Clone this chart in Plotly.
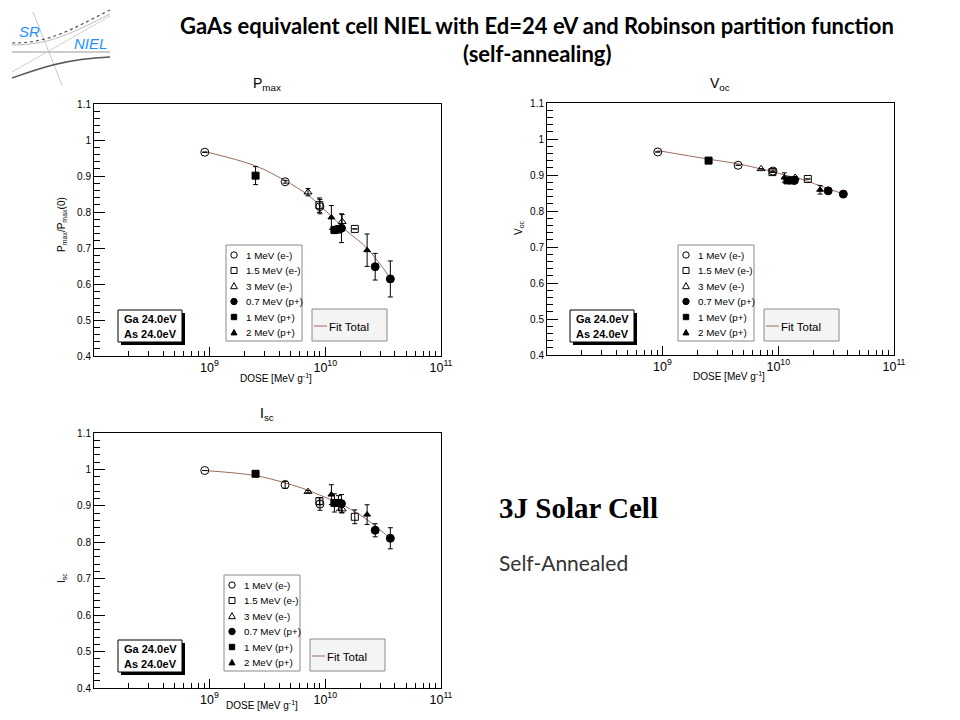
import plotly.graph_objects as go

W, H = 960, 720
OFF = 8  # the page body adds an 8 px margin; compensate in paper placement

# ---------------- data ----------------
series_names = ["1 MeV (e-)", "1.5 MeV (e-)", "3 MeV (e-)", "0.7 MeV (p+)", "1 MeV (p+)", "2 MeV (p+)"]
series_symbols = ["circle-open", "square-open", "triangle-up-open", "circle", "square", "triangle-up"]

dose_1MeV_e = [9.1e8, 4.5e9, 9.0e9]
dose_1p5MeV_e = [8.9e9, 1.8e10]
dose_3MeV_e = [7.1e9, 1.4e10]
dose_0p7MeV_p = [1.38e10, 2.7e10, 3.65e10]
dose_1MeV_p = [2.5e9, 1.2e10, 1.3e10]
dose_2MeV_p = [1.13e10, 2.3e10]
doses = [dose_1MeV_e, dose_1p5MeV_e, dose_3MeV_e, dose_0p7MeV_p, dose_1MeV_p, dose_2MeV_p]

# Pmax / Pmax(0)   (None = no error bar drawn)
pmax_vals = [[0.966, 0.884, 0.815], [0.819, 0.753], [0.855, 0.773],
             [0.755, 0.648, 0.614], [0.901, 0.750, 0.752], [0.785, 0.694]]
pmax_err = [[None, 0.004, 0.02], [0.02, None], [0.01, 0.02],
            [0.04, 0.037, 0.05], [0.025, 0.01, 0.01], [0.033, 0.045]]
# Voc
voc_vals = [[0.964, 0.927, 0.911], [0.908, 0.889], [0.917, 0.893],
            [0.885, 0.856, 0.847], [0.940, 0.885, 0.885], [0.893, 0.859]]
voc_err = [[None, None, 0.003], [None, None], [None, 0.003],
           [0.004, 0.003, 0.004], [0.003, 0.003, 0.003], [0.013, 0.012]]
# Isc
isc_vals = [[0.997, 0.958, 0.905], [0.913, 0.870], [0.939, 0.891],
            [0.906, 0.833, 0.811], [0.988, 0.908, 0.908], [0.931, 0.876]]
isc_err = [[None, 0.01, 0.017], [0.01, 0.019], [0.003, 0.01],
           [0.025, 0.018, 0.029], [0.005, 0.025, 0.02], [0.027, 0.027]]

# fit curves (read along the drawn fit)
fit_dose = [9.06e8, 2.5e9, 4.5e9, 7.1e9, 8.9e9, 1.16e10, 1.5e10, 2.3e10, 3.66e10]
fit_pmax = [0.968, 0.928, 0.887, 0.847, 0.819, 0.785, 0.750, 0.699, 0.616]
fit_voc = [0.968, 0.944, 0.931, 0.917, 0.910, 0.899, 0.891, 0.870, 0.847]
fit_isc = [0.997, 0.983, 0.963, 0.943, 0.930, 0.915, 0.898, 0.862, 0.810]

# ---------------- helpers ----------------
def fx(x):
    return (x - OFF) / W

def fy(y):
    return 1 - (y - OFF) / H

FONT = "Liberation Sans, Arial, Helvetica, sans-serif"
FIT_COLOR = "#9c6b5c"

panels = [
    # name, values, errors, fit, x-dom px, y-dom px, axis suffix, legend top-left, ga/as box
    ("Pmax", pmax_vals, pmax_err, fit_pmax, (94, 441), (104, 356), "", (226, 245), (118, 310)),
    ("Voc", voc_vals, voc_err, fit_voc, (547, 894), (103, 355), "2", (678, 245), (570, 310)),
    ("Isc", isc_vals, isc_err, fit_isc, (94, 441), (433, 688), "3", (224, 575), (118, 640)),
]

fig = go.Figure()
layout = dict(width=W, height=H, margin=dict(l=0, r=0, t=0, b=0, autoexpand=False),
              paper_bgcolor="white", plot_bgcolor="white", showlegend=False,
              font=dict(family=FONT, size=10, color="black"))

annotations = []
shapes = []

def text(x, y, t, size=10, family=FONT, color="black", angle=0, xanchor="center"):
    annotations.append(dict(x=fx(x), y=fy(y), xref="paper", yref="paper", text=t,
                            showarrow=False, textangle=angle, xanchor=xanchor, yanchor="middle",
                            font=dict(size=size, family=family, color=color)))

def rect(x0, y0, x1, y1, fill, line_color=None, lw=1):
    shapes.append(dict(type="rect", xref="paper", yref="paper", x0=fx(x0), x1=fx(x1),
                       y0=fy(y1), y1=fy(y0), fillcolor=fill, layer="above",
                       line=dict(color=line_color or fill, width=lw if line_color else 0)))

def P(x, y):
    return "%.5f,%.5f" % (fx(x), fy(y))

def legend_symbol(kind, cx, cy):
    filled = not kind.endswith("open")
    fill = "black" if filled else "rgba(0,0,0,0)"
    if kind.startswith("circle"):
        r = 3.2
        shapes.append(dict(type="circle", xref="paper", yref="paper", x0=fx(cx - r), x1=fx(cx + r),
                           y0=fy(cy + r), y1=fy(cy - r), fillcolor=fill, layer="above",
                           line=dict(color="black", width=1)))
    elif kind.startswith("square"):
        r = 3.0 if not filled else 2.7
        rect(cx - r, cy - r, cx + r, cy + r, fill, "black")
    else:
        r = 3.4 if not filled else 3.0
        shapes.append(dict(type="path", xref="paper", yref="paper", layer="above",
                           path="M %s L %s L %s Z" % (P(cx - r, cy + r * 0.8), P(cx + r, cy + r * 0.8),
                                                      P(cx, cy - r * 1.0)),
                           fillcolor=fill, line=dict(color="black", width=1)))

marker_sizes = [8, 7, 7, 8, 7, 6]

for i, (name, vals, errs, fit, xd, yd, suf, (lx, ly), (gx, gy)) in enumerate(panels):
    xa = "x" + suf
    ya = "y" + suf
    fig.add_trace(go.Scatter(x=fit_dose, y=fit, mode="lines", xaxis=xa, yaxis=ya,
                             line=dict(color=FIT_COLOR, width=1, shape="spline"),
                             name="Fit Total"))
    for s in range(6):
        fig.add_trace(go.Scatter(
            x=doses[s], y=vals[s], mode="markers", xaxis=xa, yaxis=ya,
            name=series_names[s],
            marker=dict(symbol=series_symbols[s], size=marker_sizes[s], color="black",
                        line=dict(color="black", width=1)),
            error_y=dict(type="data", array=errs[s], color="black", thickness=1, width=2.5)))

    layout["xaxis" + suf] = dict(
        domain=[fx(xd[0]), fx(xd[1])], anchor=ya, type="log", range=[8.002, 11], dtick=1,
        exponentformat="power", showgrid=False, zeroline=False, automargin=False,
        showline=True, linecolor="black", linewidth=1, mirror=True,
        ticks="inside", ticklen=9, tickcolor="black",
        minor=dict(ticks="inside", ticklen=5, tickcolor="black", dtick="D1"),
        tickfont=dict(size=10, family=FONT))
    layout["yaxis" + suf] = dict(
        domain=[fy(yd[1]), fy(yd[0])], anchor=xa, range=[0.4, 1.1], dtick=0.1, tick0=0.4,
        showgrid=False, zeroline=False, automargin=False,
        showline=True, linecolor="black", linewidth=1, mirror=True,
        ticks="inside", ticklen=11, tickcolor="black",
        minor=dict(ticks="inside", ticklen=6, tickcolor="black", dtick=0.02),
        tickfont=dict(size=10, family=FONT))

    # legend box (markers)
    rect(lx, ly, lx + 76, ly + 96, "white", "#8a8a8a")
    for s in range(6):
        yy = ly + 10 + s * 15.5
        legend_symbol(series_symbols[s], lx + 8, yy)
        text(lx + 18, yy, series_names[s], size=9.8, xanchor="left")
    # Fit Total box
    fx0, fy0 = lx + 86, ly + 64
    rect(fx0, fy0, fx0 + 75, fy0 + 32, "#f4f4f4", "#8a8a8a")
    shapes.append(dict(type="line", xref="paper", yref="paper", x0=fx(fx0 + 2), x1=fx(fx0 + 15),
                       y0=fy(fy0 + 17), y1=fy(fy0 + 17), layer="above",
                       line=dict(color=FIT_COLOR, width=1)))
    text(fx0 + 15, fy0 + 18, "Fit Total", size=11.5, xanchor="left")

    # Ga/As box with shadow
    rect(gx + 3, gy + 3, gx + 67, gy + 35, "black")
    rect(gx, gy, gx + 64, gy + 32, "white", "black")
    text(gx + 4, gy + 9, "<b>Ga 24.0eV</b>", size=11, xanchor="left")
    text(gx + 4, gy + 24, "<b>As 24.0eV</b>", size=11, xanchor="left")

# subplot titles
text(267, 84, "P<sub>max</sub>", size=14)
text(720, 84, "V<sub>oc</sub>", size=14)
text(267, 414, "I<sub>sc</sub>", size=14)
# axis titles
text(276, 378, "DOSE [MeV g<sup>-1</sup>]", size=10)
text(729, 376, "DOSE [MeV g<sup>-1</sup>]", size=10)
text(262, 705, "DOSE [MeV g<sup>-1</sup>]", size=10)
text(62, 225, "P<sub>max</sub>/P<sub>max</sub>(0)", size=10, angle=-90)
text(519, 228, "V<sub>oc</sub>", size=10, angle=-90)
text(62, 578, "I<sub>sc</sub>", size=10, angle=-90)

# page title
text(537, 25, "<b>GaAs equivalent cell NIEL with Ed=24 eV and Robinson partition function</b>",
     size=22, family="Lato, Open Sans, sans-serif")
text(537, 53, "<b>(self-annealing)</b>", size=22, family="Lato, Open Sans, sans-serif")

# right side text
text(497, 508, "<b>3J Solar Cell</b>", size=29, family="Liberation Serif, Times New Roman, serif",
     xanchor="left")
text(497, 562, "Self-Annealed", size=21, family="Lato, Open Sans, sans-serif", color="#333333",
     xanchor="left")

# logo
shapes.append(dict(type="line", xref="paper", yref="paper", x0=fx(33), y0=fy(12), x1=fx(62), y1=fy(85),
                   line=dict(color="#c8c8c8", width=1)))
shapes.append(dict(type="path", xref="paper", yref="paper",
                   path="M %s C %s %s %s" % (P(12, 43), P(50, 43), P(70, 30), P(110, 10)),
                   line=dict(color="#555555", width=1.2, dash="dot")))
shapes.append(dict(type="path", xref="paper", yref="paper",
                   path="M %s C %s %s %s" % (P(12, 45), P(50, 45), P(72, 33), P(110, 14)),
                   line=dict(color="#bbbbbb", width=1)))
shapes.append(dict(type="line", xref="paper", yref="paper", x0=fx(12), y0=fy(52), x1=fx(110), y1=fy(52),
                   line=dict(color="#999999", width=1)))
shapes.append(dict(type="path", xref="paper", yref="paper",
                   path="M %s C %s %s %s" % (P(12, 78), P(40, 68), P(65, 59), P(110, 57)),
                   line=dict(color="#555555", width=1.5)))
shapes.append(dict(type="line", xref="paper", yref="paper", x0=fx(12), y0=fy(72), x1=fx(110), y1=fy(16),
                   line=dict(color="#d0d0d0", width=1)))
text(29, 31, "<i>SR</i>", size=15, family="Liberation Sans, Arial", color="#1e90ff")
text(90, 43, "<i>NIEL</i>", size=15, family="Liberation Sans, Arial", color="#1e90ff")

layout["annotations"] = annotations
layout["shapes"] = shapes
fig.update_layout(**layout)
fig.write_html("out.html")
